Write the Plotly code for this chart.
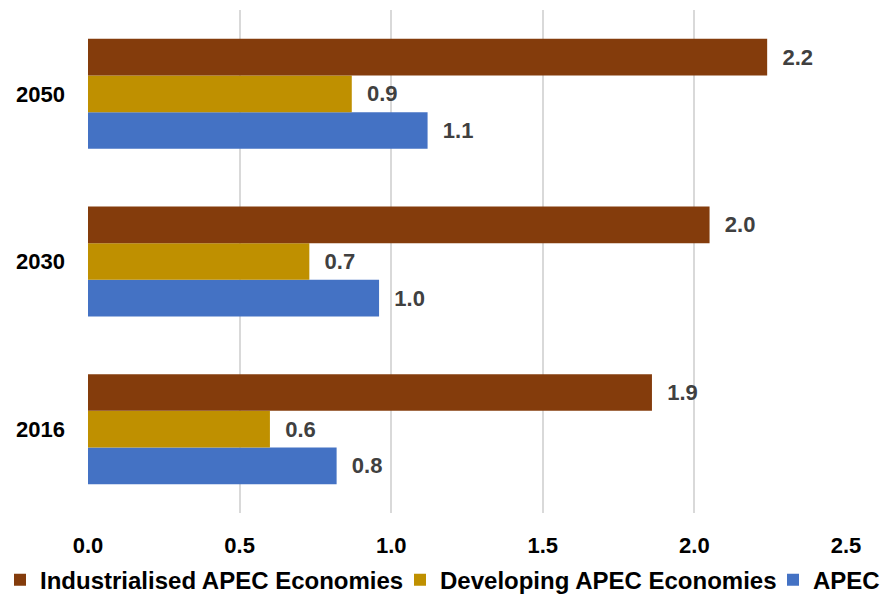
import plotly.graph_objects as go

years = ["2016", "2030", "2050"]
industrialised = [1.86, 2.05, 2.24]
developing = [0.60, 0.73, 0.87]
apec = [0.82, 0.96, 1.12]
labels_ind = ["1.9", "2.0", "2.2"]
labels_dev = ["0.6", "0.7", "0.9"]
labels_apec = ["0.8", "1.0", "1.1"]

FONT = "Liberation Sans, Arial, sans-serif"

fig = go.Figure()
series = [
    ("APEC", apec, labels_apec, "#4472C4", "legend3"),
    ("Developing APEC Economies", developing, labels_dev, "#BF9000", "legend2"),
    ("Industrialised APEC Economies", industrialised, labels_ind, "#843C0C", "legend"),
]
for name, vals, labs, col, leg in series:
    fig.add_trace(go.Bar(
        y=years, x=vals, name=name, orientation="h", legend=leg,
        marker=dict(color=col, line=dict(width=0)),
        text=labs, textposition="outside", cliponaxis=False,
        textfont=dict(family=FONT, size=22, color="#404040"),
        texttemplate="  <b>%{text}</b>",
    ))

legfont = dict(family=FONT, size=24, color="black", weight="bold")
def leg(xpix):
    return dict(orientation="h", xref="container", x=xpix / 882, xanchor="left",
                yref="container", y=0.03, yanchor="middle", font=legfont,
                itemwidth=30, bgcolor="rgba(0,0,0,0)")

fig.update_layout(
    width=882, height=598,
    barmode="group", bargap=0.344, bargroupgap=0,
    plot_bgcolor="white", paper_bgcolor="white",
    margin=dict(l=88, r=36, t=10, b=85, autoexpand=False),
    font=dict(family=FONT, size=22, color="black"),
    legend=leg(0),
    legend2=leg(400),
    legend3=leg(773),
    showlegend=True,
)
fig.update_xaxes(range=[0, 2.5], dtick=0.5, tickformat=".1f", showgrid=True,
                 gridcolor="#D9D9D9", gridwidth=1.5, zeroline=False, showline=False,
                 ticklabelstandoff=17,
                 tickfont=dict(family=FONT, size=22, color="black", weight="bold"))
fig.update_yaxes(categoryorder="array", categoryarray=years, showgrid=False,
                 zeroline=False, showline=False, ticklabelstandoff=22,
                 tickfont=dict(family=FONT, size=22, color="black", weight="bold"))

fig.write_html("out.html")
